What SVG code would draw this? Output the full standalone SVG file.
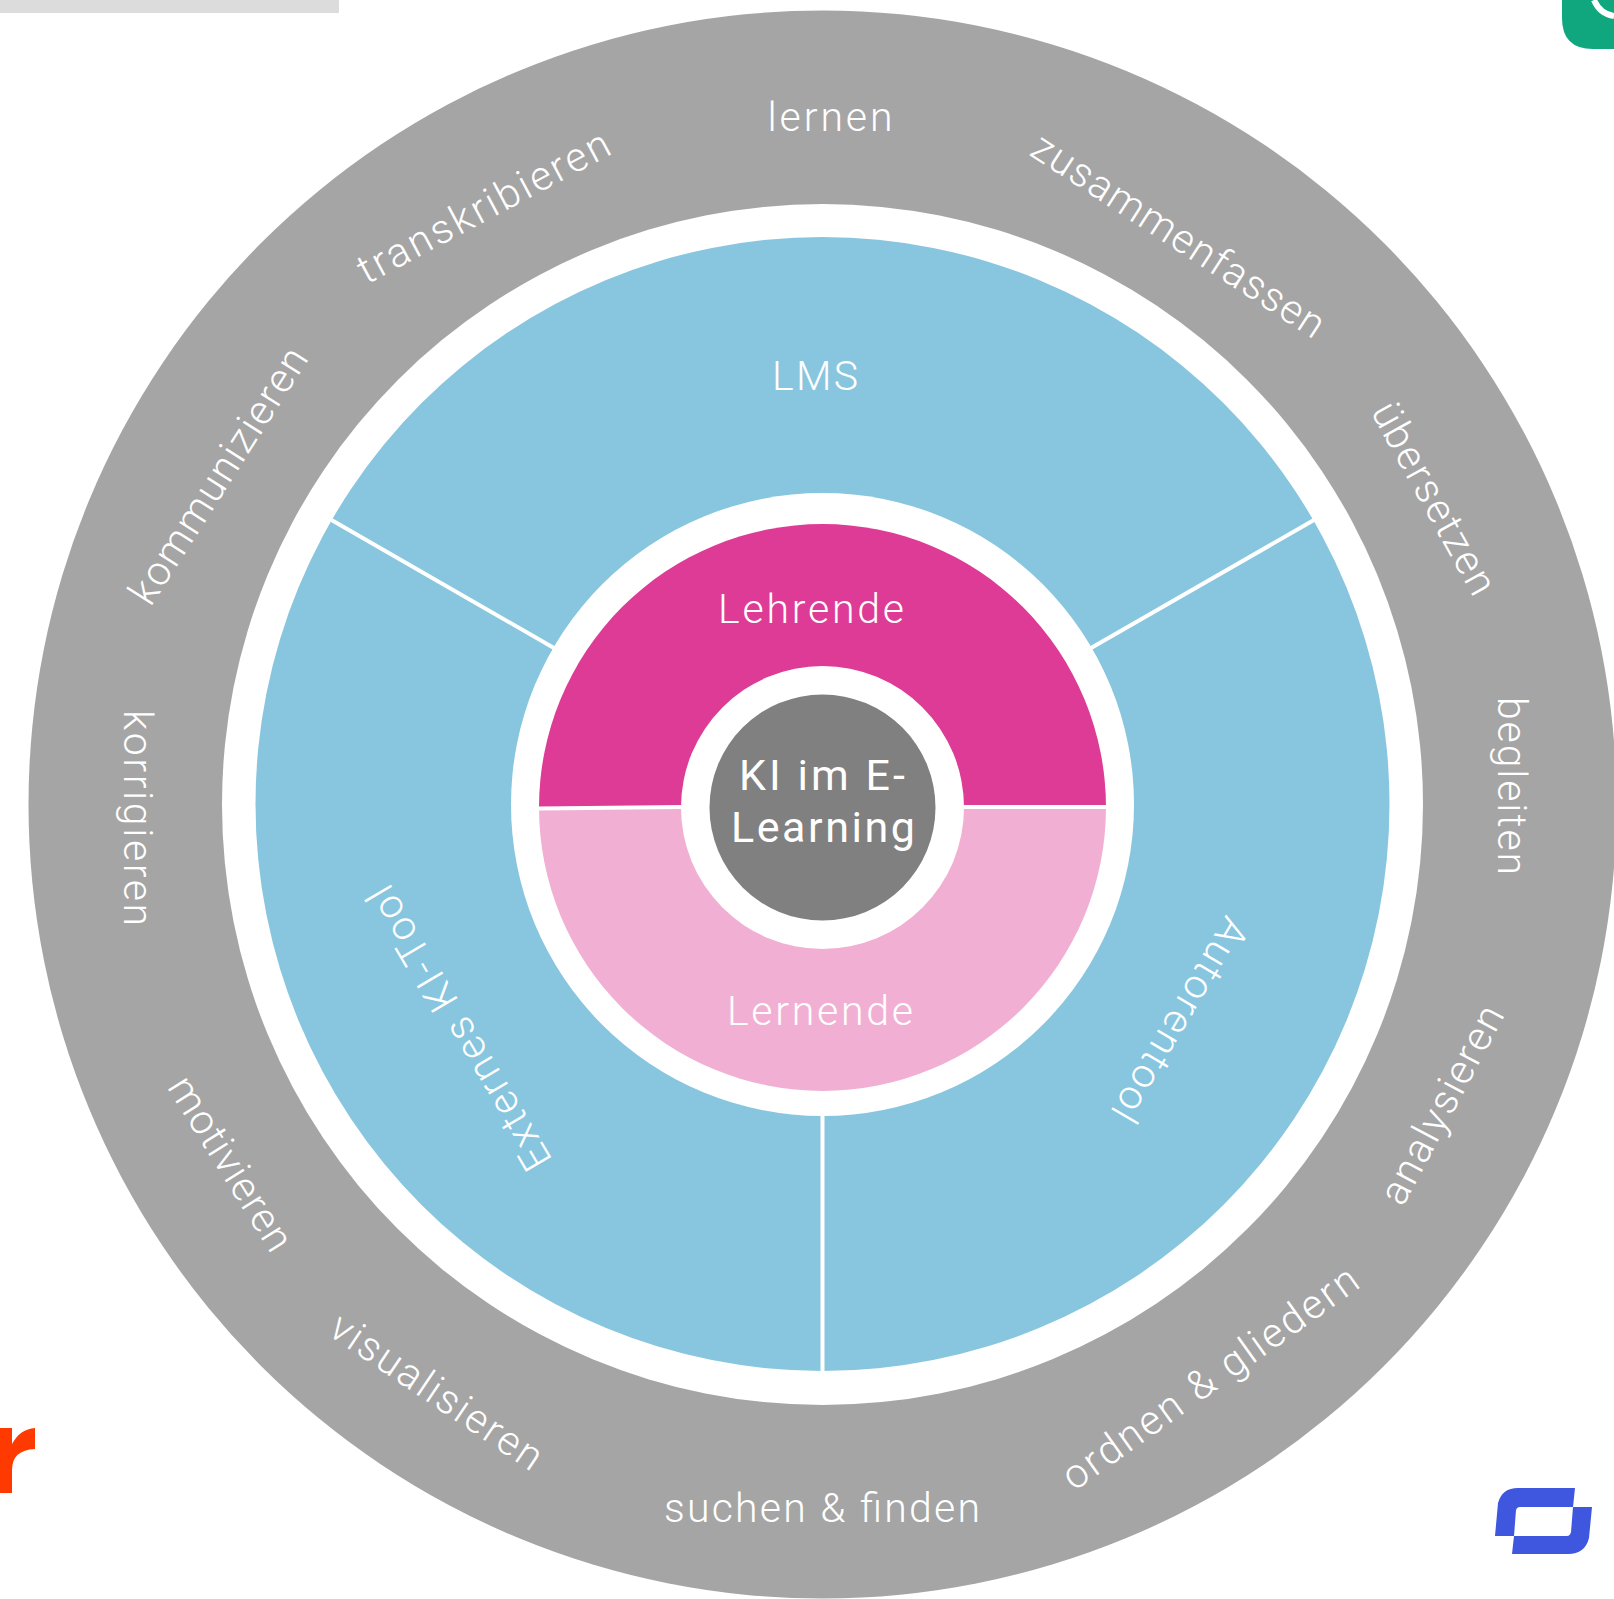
<svg xmlns="http://www.w3.org/2000/svg" width="1614" height="1599" viewBox="0 0 1614 1599">
<style>
text{font-family:"Roboto","Liberation Sans",sans-serif;fill:#fff;text-anchor:middle;font-weight:300}
.a{font-size:41px}
.b{font-size:43px;font-weight:400}
.w{fill:#fff}
.c{stroke:#fff;stroke-width:4;fill:none}
</style>
<rect width="1614" height="1599" fill="#fff"/>
<rect id="bar" x="0" y="0" width="339" height="13" fill="#dcdcdc"/>
<g id="logo-green"><path d="M1562 0V18Q1562 49 1593 49H1614V0Z" fill="#10a77f"/><path d="M1594 0Q1600 14 1614 16" fill="none" stroke="#fff" stroke-width="6"/></g>
<g id="logo-orange"><path d="M0 1428H12V1444Q20 1429 35 1428V1449Q12 1450 12 1470V1493H0Z" fill="#ff3a00"/></g>
<g id="logo-blue"><path d="M1495 1536L1498 1503Q1502 1488 1518 1488H1575L1573 1507H1520Q1517 1507 1516 1510L1514 1536Z" fill="#3f57de"/><path d="M1592 1507L1589 1538Q1585 1554 1568 1554H1512L1514 1536H1567Q1570 1536 1571 1532L1573 1507Z" fill="#3f57de"/></g>
<g id="ring-outer"><circle cx="822.5" cy="804.500" r="794" fill="#a5a5a5"/><circle cx="822.5" cy="804.500" r="600.500" class="w"/>
<text class="a" x="830" y="131" textLength="125">lernen</text>
<text class="a" transform="translate(490 219) rotate(-28)" textLength="280">transkribieren</text>
<text class="a" transform="translate(1171 247) rotate(33)" textLength="341">zusammenfassen</text>
<text class="a" transform="translate(1422 505) rotate(61)" textLength="214">übersetzen</text>
<text class="a" transform="translate(1498 786) rotate(90)" textLength="178">begleiten</text>
<text class="a" transform="translate(1454 1111) rotate(-62)" textLength="219">analysieren</text>
<text class="a" transform="translate(1218 1389) rotate(-35.500)" textLength="354">ordnen &amp; gliedern</text>
<text class="a" x="822" y="1522" textLength="316">suchen &amp; finden</text>
<text class="a" transform="translate(429 1403) rotate(34)" textLength="247">visualisieren</text>
<text class="a" transform="translate(219 1171) rotate(58)" textLength="198">motivieren</text>
<text class="a" transform="translate(124 818) rotate(90)" textLength="216">korrigieren</text>
<text class="a" transform="translate(230 483) rotate(-57.500)" textLength="296">kommunizieren</text>
</g>
<g id="ring-tools"><circle cx="822.5" cy="804" r="567" fill="#88c6df"/>
<text class="a" x="815" y="390" textLength="86">LMS</text>
<text class="a" transform="translate(471 1021) rotate(239.500)" textLength="323">Externes KI-Tool</text>
<text class="a" transform="translate(1168 1013) rotate(120.500)" textLength="230">Autorentool</text>
</g>
<g id="connectors"><path class="c" d="M331.500 520L554 648M1314 520L1091 648M822.500 1110V1371"/></g>
<g id="ring-roles"><circle cx="822.5" cy="804.500" r="311.500" class="w"/>
<path d="M539 807.500A283.500 283.500 0 0 1 1106 807.500Z" fill="#dd3b96"/>
<path d="M539 807.500H1106A283.500 283.500 0 0 1 539 807.500Z" fill="#f1b0d3"/>
<path class="c" d="M539 808.500L681 807M964 807H1106"/>
<text class="a" x="811" y="623" textLength="186">Lehrende</text>
<text class="a" x="820" y="1025" textLength="186">Lernende</text>
</g>
<g id="center"><circle cx="822.5" cy="807.500" r="141.500" class="w"/><circle cx="822.500" cy="807.500" r="113" fill="#808080"/>
<text class="b" x="822" y="790" textLength="166">KI im E-</text>
<text class="b" x="823" y="842" textLength="184">Learning</text>
</g>
</svg>
